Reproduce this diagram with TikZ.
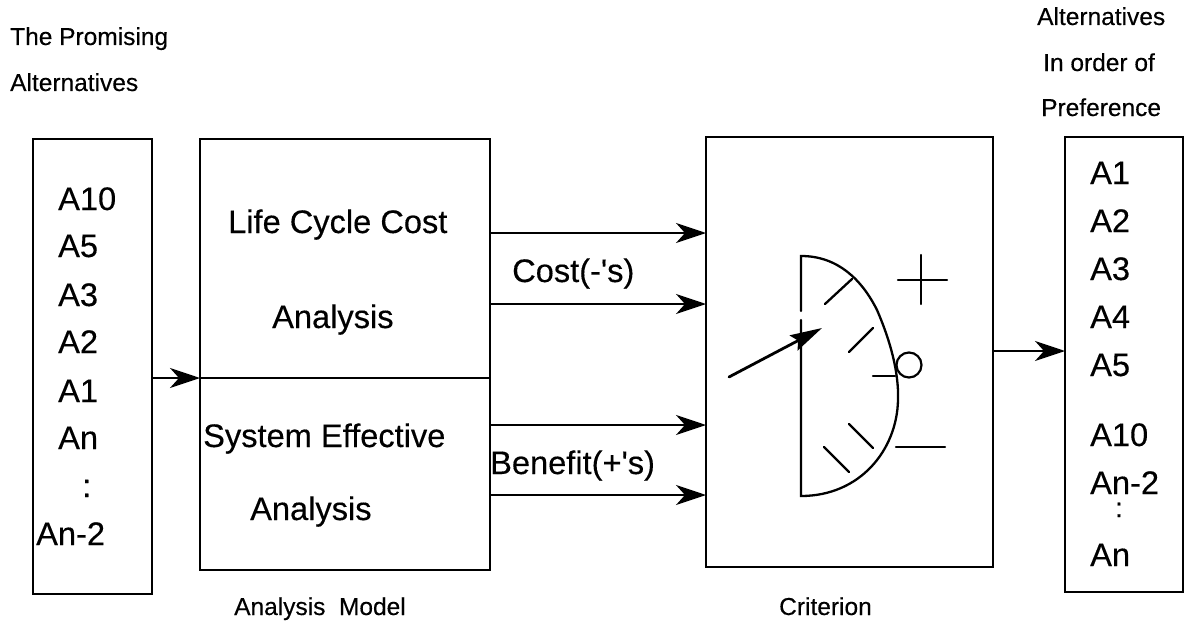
\documentclass[tikz,border=0pt]{standalone}
\usepackage{fontspec}
\setmainfont[FakeBold=0.3]{Liberation Sans}
\usepackage{tikz}
\usetikzlibrary{arrows.meta}
\tikzstyle{process} = [rectangle, draw=black, line width=2.2pt, inner sep=0pt, outer sep=0pt]
\tikzstyle{biglabel} = [anchor=base west, inner sep=0pt, font=\fontsize{32.6}{32.6}\selectfont]
\tikzstyle{smalllabel} = [anchor=base west, inner sep=0pt, font=\fontsize{24.5}{24.5}\selectfont]
\tikzstyle{arrow} = [line width=2.2pt,->,>={Stealth[length=30pt,width=20pt,inset=9pt]}]
\tikzstyle{gauge} = [line width=2.3pt, line cap=round]

\begin{document}
\begin{tikzpicture}[x=1pt,y=-1pt]
\useasboundingbox (0,0) rectangle (1189,626);

% boxes
\node (promising) [process, minimum width=119pt, minimum height=455pt] at (92.5,366.5) {};
\node (model) [process, minimum width=290pt, minimum height=431pt] at (345,354.5) {};
\node (crit) [process, minimum width=287pt, minimum height=430pt] at (849.5,352) {};
\node (order) [process, minimum width=118pt, minimum height=455pt] at (1124,364.5) {};

% headings
\node (promtop) [smalllabel] at (10,45) {The Promising};
\node (promalt) [smalllabel] at (10,91) {Alternatives};
\node (ordalt) [smalllabel] at (1037,25) {Alternatives};
\node (ordin) [smalllabel] at (1043,71) {In order of};
\node (ordpref) [smalllabel] at (1041,116) {Preference};
\node (modelname) [smalllabel] at (234,615) {Analysis\ \ Model};
\node (critname) [smalllabel] at (779,615) {Criterion};

% left list
\node (la10) [biglabel] at (58,210) {A10};
\node (la5) [biglabel] at (58,257) {A5};
\node (la3) [biglabel] at (58,306) {A3};
\node (la2) [biglabel] at (58,353) {A2};
\node (la1) [biglabel] at (58,402) {A1};
\node (lan) [biglabel] at (58,449) {An};
\node (ldots) [biglabel] at (82,497) {:};
\node (lan2) [biglabel] at (36,545) {An-2};

% right list
\node (ra1) [biglabel] at (1090,184) {A1};
\node (ra2) [biglabel] at (1090,232) {A2};
\node (ra3) [biglabel] at (1090,280) {A3};
\node (ra4) [biglabel] at (1090,328) {A4};
\node (ra5) [biglabel] at (1090,376) {A5};
\node (ra10) [biglabel] at (1090,446) {A10};
\node (ran2) [biglabel] at (1090,494) {An-2};
\node (rdots) [biglabel, font=\fontsize{27}{27}\selectfont] at (1115,517) {:};
\node (ran) [biglabel] at (1090,566) {An};

% model text
\node (lcc) [biglabel] at (228,233) {Life Cycle Cost};
\node (lcca) [biglabel] at (272,328) {Analysis};
\node (sys) [biglabel] at (203,447) {System Effective};
\node (sysa) [biglabel] at (250,520) {Analysis};
\node (cost) [biglabel] at (512,282) {Cost(-\textquotesingle s)};
\node (benefit) [biglabel] at (490,474) {Benefit(+\textquotesingle s)};

% connectors
\draw [line width=2.2pt] (model.west |- 0,378) -- (model.east |- 0,378);
\draw [arrow] (promising.east |- 0,378) -- (model.west |- 0,378);
\draw [arrow] (model.east |- 0,233) -- (crit.west |- 0,233);
\draw [arrow] (model.east |- 0,304) -- (crit.west |- 0,304);
\draw [arrow] (model.east |- 0,425) -- (crit.west |- 0,425);
\draw [arrow] (model.east |- 0,495) -- (crit.west |- 0,495);
\draw [arrow] (crit.east |- 0,351) -- (order.west |- 0,351);

% dial
\draw [gauge] (801,311) -- (801,256) .. controls (838,256) and (862,280) .. (877,310)
  .. controls (890,340) and (899,372) .. (898,400)
  .. controls (897,450) and (860,496) .. (801,496) -- (801,320);
\draw [gauge] (825,304) -- (852,279);
\draw [gauge] (849,352) -- (873,328);
\draw [gauge] (873,376) -- (895,376);
\draw [gauge] (849,424) -- (873,448);
\draw [gauge] (824,447) -- (849,472);
\node (zero) [circle, draw=black, line width=2.2pt, minimum size=25pt, inner sep=0pt] at (909,365) {};
\draw [gauge] (898,280) -- (947,280);
\draw [gauge] (921,255) -- (921,304);
\draw [gauge] (896,447) -- (945,447);
\draw [line width=2.8pt, line cap=round, -{Stealth[length=32pt,width=17pt,inset=5pt]}] (729,377) -- (822,328);
\end{tikzpicture}
\end{document}
